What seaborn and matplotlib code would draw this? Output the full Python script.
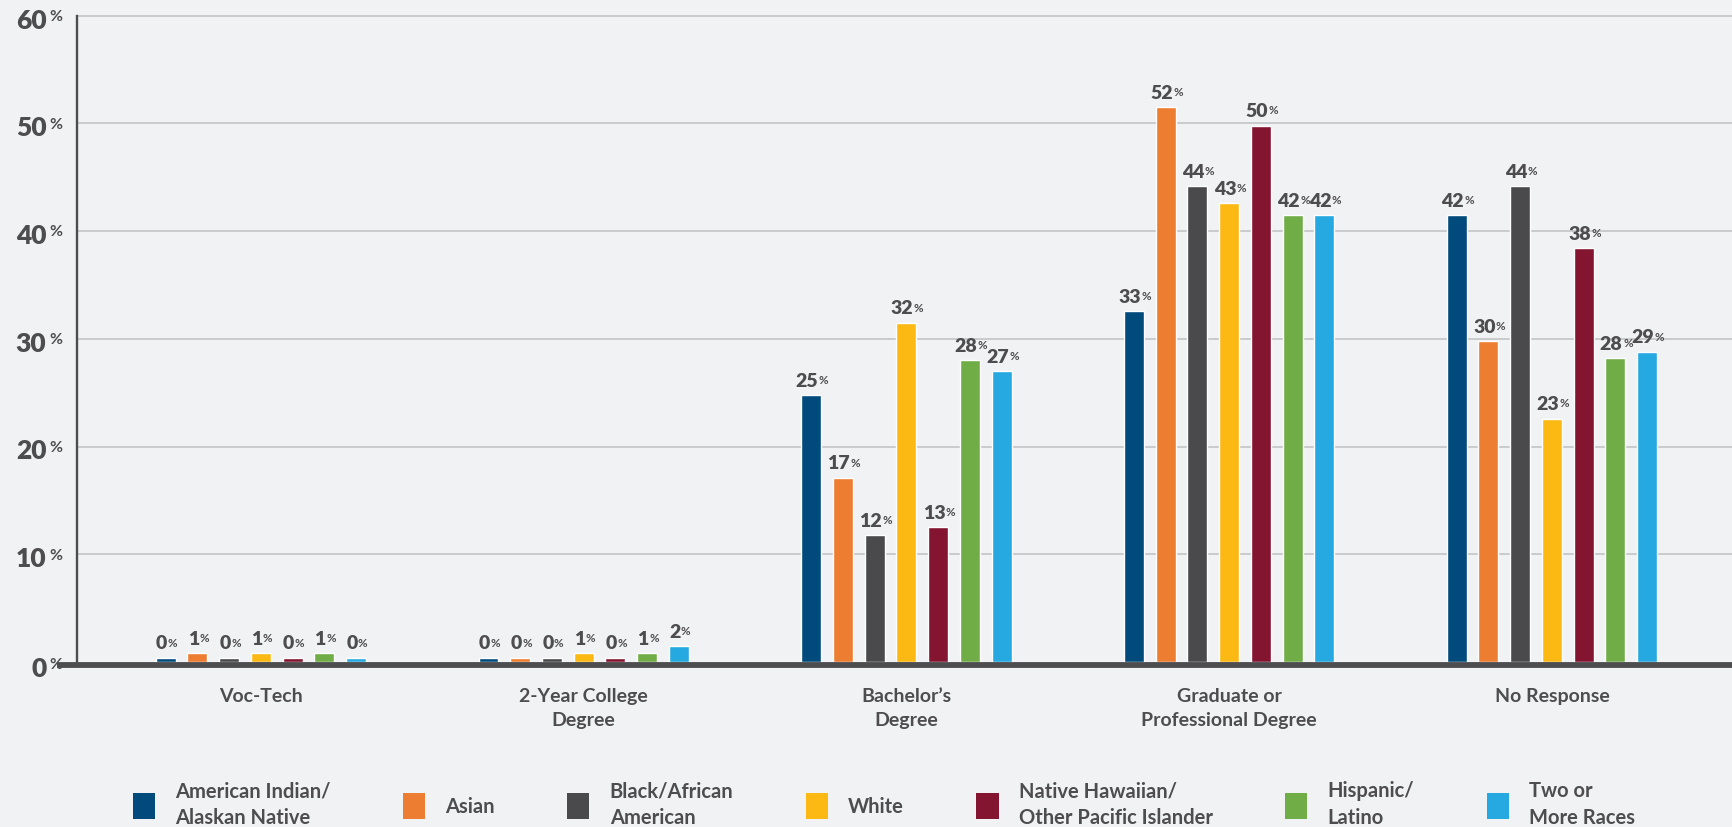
import matplotlib
matplotlib.use("Agg")
import matplotlib.pyplot as plt
import matplotlib.transforms as mtransforms
from matplotlib.lines import Line2D
from matplotlib.patches import Patch
import seaborn as sns
import pandas as pd

# ---- data -------------------------------------------------------------
degrees = ["Voc-Tech", "2-Year College\nDegree", "Bachelor’s\nDegree",
           "Graduate or\nProfessional Degree", "No Response"]
groups = ["American Indian/\nAlaskan Native", "Asian", "Black/African\nAmerican",
          "White", "Native Hawaiian/\nOther Pacific Islander", "Hispanic/\nLatino",
          "Two or\nMore Races"]

american_indian = [0.4, 0.4, 24.8, 32.6, 41.5]
asian = [0.8, 0.4, 17.1, 51.5, 29.8]
black = [0.4, 0.4, 11.8, 44.2, 44.2]
white = [0.8, 0.8, 31.5, 42.6, 22.6]
pacific_islander = [0.4, 0.4, 12.5, 49.8, 38.4]
hispanic = [0.8, 0.8, 28.0, 41.5, 28.2]
multiracial = [0.4, 1.5, 27.0, 41.5, 28.8]

series = [american_indian, asian, black, white, pacific_islander, hispanic, multiracial]
colors = ["#004a7c", "#ed7d31", "#4a4a4c", "#fdb913", "#831531", "#70ad47", "#25a9e0"]
y_ticks = [0, 10, 20, 30, 40, 50, 60]

df = pd.DataFrame({
    "degree": [d for s in series for d in degrees],
    "group": [g for g, s in zip(groups, series) for _ in s],
    "pct": [v for s in series for v in s],
})

# ---- style ------------------------------------------------------------
BG = "#f1f2f4"
INK = "#4d4d4f"
sns.set_theme(style="white")
plt.rcParams["font.family"] = ["Lato", "DejaVu Sans"]

fig = plt.figure(figsize=(17.33, 8.27), dpi=100, facecolor=BG)
ax = fig.add_axes([0.0444, 0.1995, 0.9556, 0.7815], facecolor=BG)

sns.barplot(data=df, x="degree", y="pct", hue="group", order=degrees,
            hue_order=groups, palette=colors, width=0.688, gap=0.37,
            saturation=1, legend=False, ax=ax, zorder=3)

ax.set_xlim(-0.57, 4.561)
ax.set_ylim(0, 60)
ax.set_xlabel("")
ax.set_ylabel("")
for side in ["top", "right", "bottom"]:
    ax.spines[side].set_visible(False)
ax.spines["left"].set_color(INK)
ax.spines["left"].set_linewidth(1.7)
ax.spines["left"].set_zorder(4)

# horizontal grid
for t in y_ticks[1:]:
    ax.axhline(t, color="#c6c7c9", lw=1.3, zorder=1, clip_on=False)

# heavy baseline sitting just below zero
base_tr = ax.get_yaxis_transform() + mtransforms.ScaledTranslation(0, -2.2 / 72, fig.dpi_scale_trans)
ax.add_line(Line2D([-0.012, 1.0], [0, 0], transform=base_tr, color=INK, lw=4.2,
                   zorder=5, clip_on=False, solid_capstyle="butt"))

# category labels
ax.tick_params(axis="x", length=0, pad=19)
ax.set_xticks(range(len(degrees)))
ax.set_xticklabels(degrees, fontsize=14, color=INK, fontweight="bold", linespacing=1.45)
ax.set_yticks([])


def pct_text(anchor_x, anchor_y, value, size, ha, va, offset, transform, sign_offset):
    num = ax.annotate(f"{value}", xy=(anchor_x, anchor_y), xycoords=transform,
                      xytext=offset, textcoords="offset points", ha=ha, va=va,
                      fontsize=size, fontweight="heavy", color=INK, zorder=6,
                      annotation_clip=False)
    ax.annotate("%", xy=(1, 1), xycoords=num, xytext=sign_offset,
                textcoords="offset points", ha="left", va="top",
                fontsize=size * 0.6, fontweight="bold", color=INK, zorder=6,
                annotation_clip=False)
    return num


# y-axis labels with raised percent sign
ytr = ax.get_yaxis_transform()
for t in y_ticks:
    pct_text(0, t, t, 19, "right", "center", (-22, -3.5 if t else -5), ytr, (1.8, -1.0))

# value labels above every bar
for container, vals in zip(ax.containers, series):
    for bar, v in zip(container, vals):
        cx = bar.get_x() + bar.get_width() / 2
        pct_text(cx, v, int(v + 0.5), 14, "center", "baseline", (-3, 6),
                 ax.transData, (0.3, -1.6))

# legend
handles = [Patch(facecolor=c, edgecolor="none") for c in colors]
leg = fig.legend(handles, groups, loc="center", bbox_to_anchor=(0.510, 0.027),
                 ncol=7, frameon=False, fontsize=14.5, handlelength=1.1,
                 handleheight=1.6, handletextpad=1.0, columnspacing=3.6)
for t in leg.get_texts():
    t.set_color(INK)
    t.set_fontweight("bold")
    t.set_linespacing(1.4)

fig.savefig("out.png", dpi=100, facecolor=BG)
